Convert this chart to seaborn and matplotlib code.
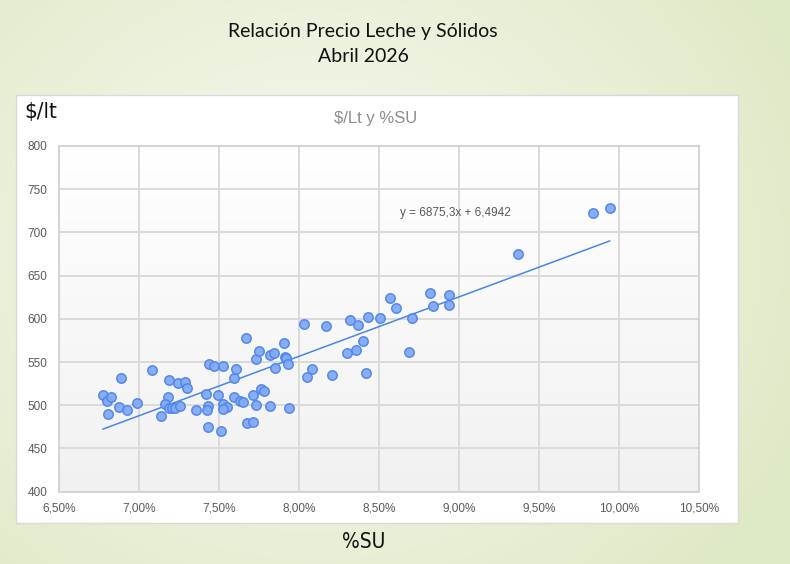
"""
Relación Precio Leche y Sólidos - scatter $/lt vs %SU with linear trend
"""

import numpy as np
import pandas as pd
import matplotlib
matplotlib.use("Agg")
import matplotlib.pyplot as plt
from matplotlib.patches import Rectangle
from matplotlib.ticker import FuncFormatter, MultipleLocator
import seaborn as sns

# -----------------------------
# Data
# -----------------------------
su_pct = [6.775, 6.804, 6.829, 6.806, 6.888, 6.879, 6.929, 6.989, 7.085, 7.138,
          7.189, 7.181, 7.166, 7.188, 7.206, 7.225, 7.260, 7.244, 7.291, 7.300,
          7.358, 7.419, 7.435, 7.425, 7.431, 7.439, 7.471, 7.496, 7.513, 7.529,
          7.529, 7.550, 7.525, 7.594, 7.608, 7.594, 7.633, 7.654, 7.673, 7.675,
          7.713, 7.713, 7.733, 7.735, 7.752, 7.763, 7.785, 7.823, 7.820, 7.844,
          7.854, 7.906, 7.913, 7.923, 7.935, 7.939, 8.030, 8.080, 8.050, 8.170,
          8.210, 8.300, 8.320, 8.360, 8.370, 8.400, 8.420, 8.430, 8.510, 8.570,
          8.610, 8.690, 8.710, 8.820, 8.840, 8.940, 8.940, 9.370, 9.840, 9.945]

precio = [512, 505, 510, 490, 532, 498, 494, 503, 541, 488,
          529, 509, 501, 497, 497, 497, 499, 526, 527, 520,
          494, 513, 499, 494, 475, 548, 545, 512, 470, 545,
          502, 498, 496, 532, 542, 510, 505, 504, 578, 479,
          481, 512, 500, 553, 563, 519, 517, 499, 558, 561,
          543, 572, 556, 555, 548, 497, 594, 542, 533, 592,
          535, 560, 599, 564, 593, 574, 537, 602, 601, 624,
          612, 562, 601, 630, 615, 628, 616, 675, 723, 728]

# trend line as printed on the chart: y = 6875,3x + 6,4942
slope = 6875.3
intercept = 6.4942

df = pd.DataFrame({"su": np.array(su_pct) / 100, "precio": precio})

# -----------------------------
# Figure + background
# -----------------------------
sns.set_style("white")
plt.rcParams["font.family"] = ["Liberation Sans", "DejaVu Sans"]

fig = plt.figure(figsize=(7.9, 5.64), dpi=100)

# soft green radial background
bg_ax = fig.add_axes([0, 0, 1, 1], zorder=-10)
gx, gy = np.meshgrid(np.linspace(0, 1, 400), np.linspace(0, 1, 300))
r = np.clip(np.sqrt(((gx - 0.40) / 0.7) ** 2 + ((gy - 0.45) / 0.85) ** 2), 0, 1)
light = np.array([0.975, 0.982, 0.955])
green = np.array([0.870, 0.912, 0.770])
img = light[None, None, :] * (1 - r[..., None]) + green[None, None, :] * r[..., None]
bg_ax.imshow(img, aspect="auto", extent=[0, 1, 0, 1], origin="upper")
bg_ax.set_axis_off()

# white chart box
fig.patches.append(Rectangle((16 / 790, 1 - 523 / 564), (738 - 16) / 790, (523 - 95) / 564,
                             transform=fig.transFigure, facecolor="white",
                             edgecolor="#d9d9d9", linewidth=1, zorder=-5))

left, right = 58.7 / 790, 698.7 / 790
bottom, top = 1 - 491.7 / 564, 1 - 146 / 564
ax = fig.add_axes([left, bottom, right - left, top - bottom])
ax.set_facecolor("none")

# light vertical gradient in the plot area
grad = np.linspace(1.0, 0.945, 200)[:, None]
ax.imshow(np.dstack([grad, grad, grad]), aspect="auto",
          extent=[0.065, 0.105, 400, 800], origin="upper", zorder=0)

# -----------------------------
# Scatter + trend line
# -----------------------------
sns.scatterplot(data=df, x="su", y="precio", ax=ax, s=46,
                color="#82a9f5", edgecolor="#4f86ec", linewidth=1.1,
                alpha=0.95, zorder=4)

xs = np.array([df["su"].min(), df["su"].max()])
sns.lineplot(x=xs, y=slope * xs + intercept, ax=ax, color="#4a86e8",
             linewidth=1.1, zorder=3)

ax.text(0.08633, 722, "y = 6875,3x + 6,4942", fontsize=8.5, color="#595959",
        va="center", ha="left")

# -----------------------------
# Axes styling
# -----------------------------
ax.set_xlim(0.065, 0.105)
ax.set_ylim(400, 800)
ax.xaxis.set_major_locator(MultipleLocator(0.005))
ax.yaxis.set_major_locator(MultipleLocator(50))
ax.xaxis.set_major_formatter(FuncFormatter(lambda v, p: f"{v * 100:.2f}%".replace(".", ",")))
ax.grid(True, color="#dadada", linewidth=1.4, zorder=1)
ax.set_axisbelow(True)
for sp in ax.spines.values():
    sp.set_color("#d0d0d0")
    sp.set_linewidth(1.2)
ax.tick_params(axis="both", length=0, labelsize=8.5, labelcolor="#595959")
ax.tick_params(axis="x", pad=8)
ax.tick_params(axis="y", pad=8)
ax.set_xlabel("")
ax.set_ylabel("")

# -----------------------------
# Titles
# -----------------------------
fig.text(363 / 790, 1 - 32 / 564, "Relación Precio Leche y Sólidos", ha="center", va="center",
         fontsize=14, color="#111111", family=["Lato", "DejaVu Sans"])
fig.text(363 / 790, 1 - 57 / 564, "Abril 2026", ha="center", va="center",
         fontsize=14, color="#111111", family=["Lato", "DejaVu Sans"])
fig.text(376 / 790, 1 - 118 / 564, r"\$/Lt y %SU", ha="center", va="center",
         fontsize=12, color="#8c8c8c")
fig.text(24 / 790, 1 - 112 / 564, r"\$/lt", ha="left", va="center",
         fontsize=16, color="#111111", family=["DejaVu Sans"], stretch="condensed")
fig.text(364 / 790, 1 - 542 / 564, "%SU", ha="center", va="center",
         fontsize=15, color="#111111", family=["DejaVu Sans"], stretch="condensed")

plt.savefig("out.png", dpi=100)
